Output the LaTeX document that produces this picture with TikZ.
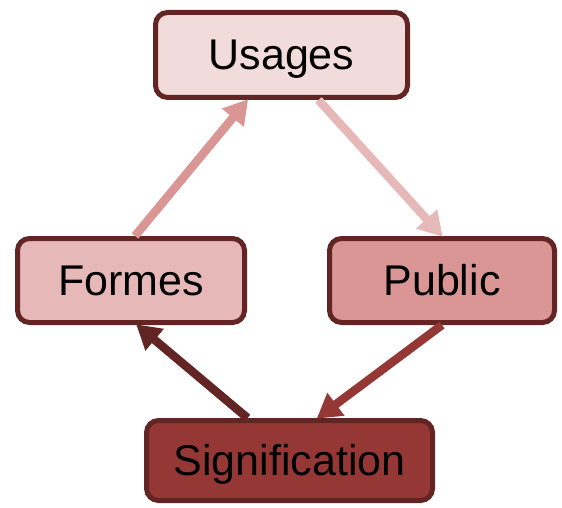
\documentclass[tikz,border=0pt]{standalone}
\usepackage{fontspec}
\setmainfont{Liberation Sans}
\usetikzlibrary{arrows.meta}
\definecolor{bord}{HTML}{632523}
\definecolor{cusages}{HTML}{F2DCDB}
\definecolor{cformes}{HTML}{E6B9B8}
\definecolor{cpublic}{HTML}{D99694}
\definecolor{csig}{HTML}{953735}
\definecolor{aone}{HTML}{DA9694}
\definecolor{atwo}{HTML}{E6B9B8}
\tikzset{
  box/.style={draw=bord, line width=5pt, rounded corners=12pt, inner sep=0pt,
    minimum height=84pt, font=\fontsize{43}{50}\selectfont, text=black,
    text height=31pt, text depth=2pt},
  conn/.style={line width=8.5pt, -{Triangle[length=24pt,width=27pt]}, shorten >=-1pt},
}
\begin{document}
\begin{tikzpicture}[x=1pt,y=-1pt]
\useasboundingbox (0,0) rectangle (562,508);
\node[box, fill=cusages, minimum width=252pt, minimum height=85pt] (usages) at (281.5,55) {Usages};
\node[box, fill=cformes, minimum width=227pt] (formes) at (131,280.5) {Formes};
\node[box, fill=cpublic, minimum width=225pt] (public) at (442,280.5) {Public};
\node[box, fill=csig, minimum width=286pt, minimum height=80pt] (sig) at (289.5,460.5) {Signification};
\draw[conn, draw=aone] ([xshift=4pt]formes.north) -- ([xshift=-34pt]usages.south);
\draw[conn, draw=atwo] ([xshift=37pt]usages.south) -- (public.north);
\draw[conn, draw=csig] (public.south) -- ([xshift=28pt]sig.north);
\draw[conn, draw=bord] ([xshift=-42pt]sig.north) -- ([xshift=6pt]formes.south);
\end{tikzpicture}
\end{document}
